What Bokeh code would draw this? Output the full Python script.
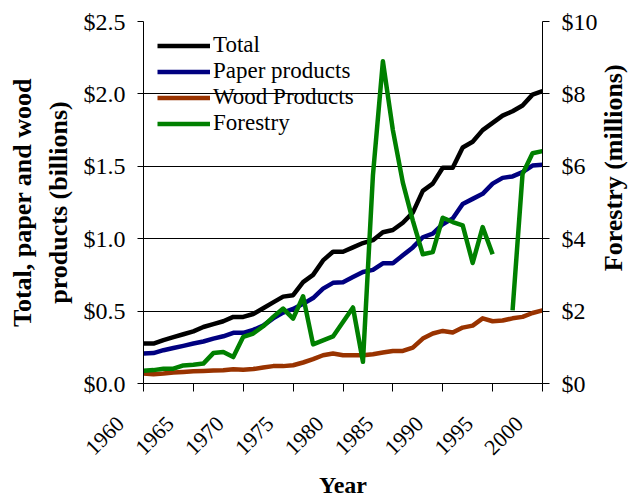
import math
from bokeh.plotting import figure
from bokeh.layouts import row
from bokeh.models import Range1d, LinearAxis, FixedTicker, NumeralTickFormatter, Title, Label
from bokeh.embed import file_html
from bokeh.resources import INLINE

NaN = float("nan")

years = list(range(1960, 2001))
total = [0.276, 0.276, 0.30, 0.32, 0.34, 0.36, 0.39, 0.41, 0.43, 0.46,
         0.46, 0.48, 0.52, 0.56, 0.60, 0.61, 0.70, 0.75, 0.85, 0.91,
         0.91, 0.94, 0.97, 0.99, 1.045, 1.06, 1.11, 1.18, 1.33, 1.38,
         1.49, 1.49, 1.63, 1.67, 1.75, 1.80, 1.85, 1.88, 1.92, 1.995, 2.02]
paper = [0.207, 0.21, 0.23, 0.245, 0.26, 0.276, 0.29, 0.31, 0.326, 0.35,
         0.35, 0.37, 0.40, 0.45, 0.49, 0.515, 0.55, 0.59, 0.655, 0.695,
         0.70, 0.735, 0.77, 0.785, 0.83, 0.83, 0.885, 0.94, 1.01, 1.035,
         1.10, 1.14, 1.24, 1.275, 1.31, 1.38, 1.42, 1.43, 1.46, 1.505, 1.51]
wood = [0.069, 0.064, 0.069, 0.076, 0.08, 0.085, 0.087, 0.09, 0.092, 0.099,
        0.095, 0.10, 0.11, 0.12, 0.12, 0.126, 0.145, 0.168, 0.195, 0.207,
        0.195, 0.195, 0.195, 0.202, 0.214, 0.225, 0.225, 0.248, 0.31, 0.345,
        0.363, 0.352, 0.386, 0.40, 0.45, 0.43, 0.435, 0.45, 0.46, 0.487, 0.505]
forestry = [0.35, 0.37, 0.41, 0.41, 0.50, 0.52, 0.55, 0.84, 0.87, 0.73,
            1.29, 1.38, 1.58, 1.84, 2.07, 1.79, 2.41, 1.08, 1.19, 1.30,
            1.70, 2.10, 0.60, 5.75, 8.9, 7.0, 5.55, 4.5, 3.57, 3.63,
            4.58, 4.46, 4.37, 3.33, 4.32, 3.57, NaN, 2.02, 5.79, 6.36, 6.42]

x_ticks = [1960, 1965, 1970, 1975, 1980, 1985, 1990, 1995, 2000]
x_tick_labels = ["1960", "1965", "1970", "1975", "1980", "1985", "1990", "1995", "2000"]
left_ticks = [0, 0.5, 1.0, 1.5, 2.0, 2.5]
right_ticks = [0, 2, 4, 6, 8, 10]

FONT = "Liberation Serif"
PAD = "\u00a0" * 6  # trailing pad shifts the rotated labels like the original

p = figure(width=600, height=500, x_range=Range1d(1960, 2000), y_range=Range1d(0, 2.5),
           output_backend="svg", toolbar_location=None,
           min_border_left=143, min_border_right=57, min_border_top=21, min_border_bottom=117)
p.extra_y_ranges = {"forestry": Range1d(0, 10)}
p.outline_line_color = None
p.background_fill_color = "white"
p.border_fill_color = "white"

p.xgrid.visible = False
p.ygrid.ticker = FixedTicker(ticks=left_ticks[1:])
p.ygrid.grid_line_color = "black"
p.ygrid.grid_line_width = 1

xa = p.xaxis[0]
xa.ticker = FixedTicker(ticks=x_ticks)
xa.major_label_overrides = {t: s + PAD for t, s in zip(x_ticks, x_tick_labels)}
xa.major_label_orientation = math.pi / 4
xa.major_label_standoff = 5
xa.major_label_text_font = FONT
xa.major_label_text_font_size = "22px"
xa.major_label_text_color = "black"
xa.major_tick_out = 8
xa.major_tick_in = 0
xa.minor_tick_line_color = None
xa.axis_line_color = "black"
xa.major_tick_line_color = "black"
xa.axis_label = "Year"
xa.axis_label_text_font = FONT
xa.axis_label_text_font_style = "bold"
xa.axis_label_text_font_size = "24px"
xa.axis_label_text_color = "black"
xa.axis_label_standoff = 0

ya = p.yaxis[0]
ya.ticker = FixedTicker(ticks=left_ticks)
ya.formatter = NumeralTickFormatter(format="$0.0")
ya.major_tick_out = 6
ya.major_tick_in = 0
ya.minor_tick_line_color = None
ya.major_label_standoff = 12
ya.major_label_text_font = FONT
ya.major_label_text_font_size = "24px"
ya.major_label_text_color = "black"
ya.axis_line_color = "black"
ya.axis_label = "products (billions)"
ya.axis_label_text_font = FONT
ya.axis_label_text_font_style = "bold"
ya.axis_label_text_font_size = "26px"
ya.axis_label_text_color = "black"
ya.axis_label_standoff = 8

ra = LinearAxis(y_range_name="forestry", ticker=FixedTicker(ticks=right_ticks),
                formatter=NumeralTickFormatter(format="$0"))
ra.major_tick_out = 7
ra.major_tick_in = 0
ra.minor_tick_line_color = None
ra.major_label_standoff = 12
ra.major_label_text_font = FONT
ra.major_label_text_font_size = "24px"
ra.major_label_text_color = "black"
ra.axis_line_color = "black"
p.add_layout(ra, "right")

p.add_layout(Title(text="Total, paper and wood", align="center", text_font=FONT,
                   text_font_style="bold", text_font_size="26px", text_color="black",
                   standoff=7), "left")

lw = 4.5
p.line(years, total, color="#000000", line_width=lw, line_join="round", legend_label="Total")
p.line(years, paper, color="#000080", line_width=lw, line_join="round", legend_label="Paper products")
p.line(years, wood, color="#993300", line_width=lw, line_join="round", legend_label="Wood Products")
p.line(years, forestry, color="#008000", line_width=lw, line_join="round",
       y_range_name="forestry", legend_label="Forestry")

lg = p.legend[0]
lg.border_line_color = None
lg.background_fill_alpha = 0
lg.padding = 0
lg.margin = 0
lg.spacing = 0
lg.location = (14, 247)
lg.glyph_width = 53
lg.glyph_height = 25
lg.label_height = 25
lg.label_standoff = 3
lg.label_text_font = FONT
lg.label_text_font_size = "23px"
lg.label_text_color = "black"

# narrow strip on the right carrying the right-hand axis title (reads bottom to top)
p2 = figure(width=28, height=500, x_range=Range1d(0, 28), y_range=Range1d(0, 500),
            output_backend="svg", toolbar_location=None, min_border=0,
            x_axis_location=None, y_axis_location=None)
p2.outline_line_color = None
p2.background_fill_color = "white"
p2.border_fill_color = "white"
p2.xgrid.visible = False
p2.ygrid.visible = False
p2.add_layout(Label(x=13, y=298, text="Forestry (millions)", angle=math.pi / 2,
                    text_align="center", text_baseline="middle", text_font=FONT,
                    text_font_style="bold", text_font_size="26px", text_color="black"))

layout = row(p, p2)
open("out.html", "w").write(file_html(layout, INLINE))
